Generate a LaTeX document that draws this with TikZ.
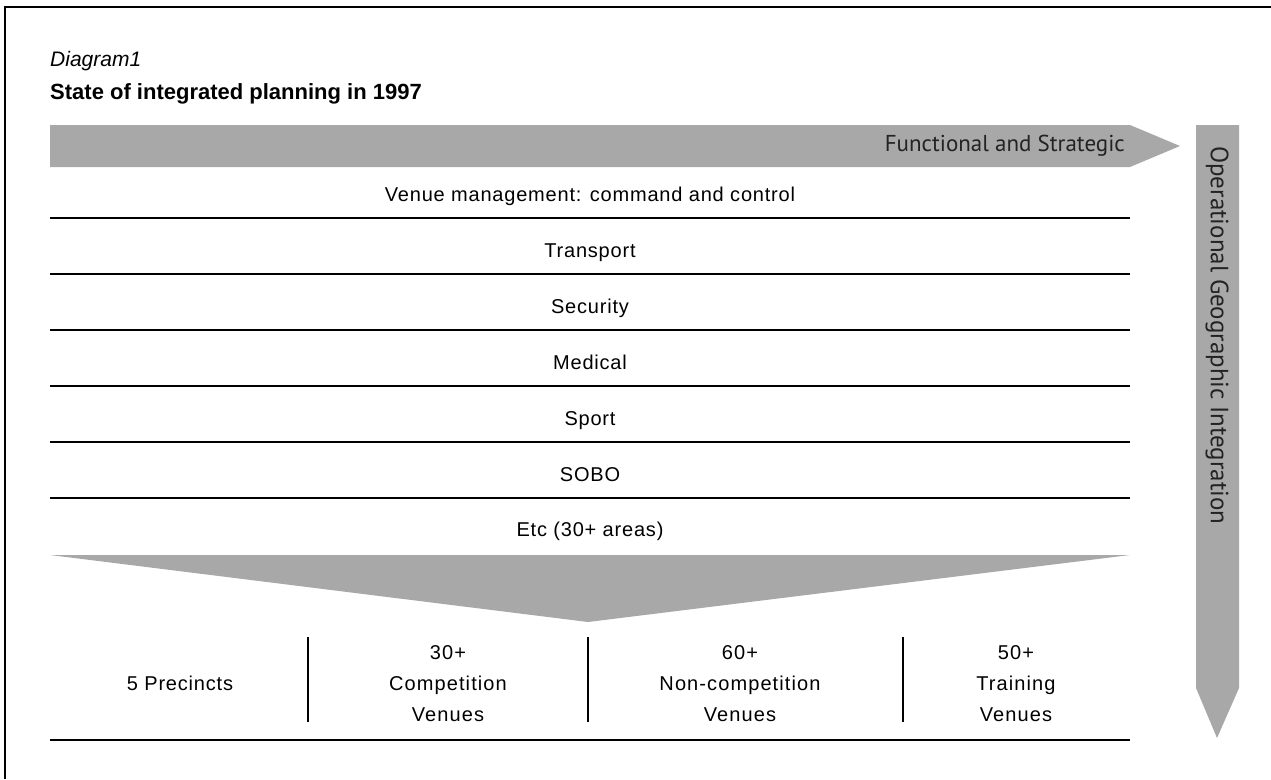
\documentclass[tikz,border=0pt]{standalone}
\usepackage{fontspec}
\setmainfont{Liberation Sans}
\newfontfamily\rowfont[LetterSpace=4]{Liberation Sans}
\newfontfamily\venuefont[LetterSpace=5.5]{Liberation Sans}
\newfontfamily\bandfont{PT Sans}
\usetikzlibrary{positioning}
\definecolor{bandgray}{RGB}{168,168,168}
\definecolor{bandink}{RGB}{35,35,35}
\tikzstyle{rowlabel} = [inner sep=0pt, anchor=base, font=\rowfont\fontsize{20}{24}\selectfont]
\tikzstyle{venuelabel} = [inner sep=0pt, align=center, font=\venuefont\fontsize{20}{31}\selectfont]
\tikzstyle{bandlabel} = [inner sep=0pt, text=bandink, font=\bandfont\fontsize{23}{26}\selectfont]
\tikzstyle{rule} = [line width=2.6pt]
\tikzstyle{divider} = [line width=2.2pt]
\tikzstyle{band} = [fill=bandgray]

\begin{document}
\begin{tikzpicture}[x=1pt, y=-1pt]
  \useasboundingbox (0,0) rectangle (1271,779);
  % frame
  \coordinate (fbot) at (5,779);
  \coordinate (ftop) at (5,7);
  \coordinate (fright) at (1271,7);
  \draw[line width=2.6pt] (fbot) -- (ftop) -- (fright);
  % heading
  \node[anchor=base west, inner sep=0pt, font=\itshape\fontsize{21}{24}\selectfont] (diag) at (50,66) {Diagram1};
  \node[anchor=base west, inner sep=0pt, font=\bfseries\fontsize{22}{26}\selectfont] (head) at (50,99) {State of integrated planning in 1997};
  % functional arrow
  \fill[band] (50,125) -- (1130,125) -- (1180,146) -- (1130,167) -- (50,167) -- cycle;
  \node[bandlabel, anchor=east] (func) at (1125,146) {Functional and Strategic};
  % geographic arrow
  \fill[band] (1196,125) -- (1239,125) -- (1239,688) -- (1217,738) -- (1196,688) -- cycle;
  \node[bandlabel, font=\bandfont\fontsize{25}{28}\selectfont, rotate=-90, anchor=west] (geo) at (1217,146) {Operational Geographic Integration};
  % functional areas
  \foreach \y/\name/\txt in {218/vm/{Venue management: command and control},
      274/tr/Transport, 330/se/Security, 386/me/Medical, 442/sp/Sport, 498/so/SOBO} {
    \coordinate (\name-l) at (50,\y);
    \coordinate (\name-r) at (1130,\y);
    \draw[rule] (\name-l) -- (\name-r);
    \node[rowlabel] (\name) at (590,\y-17) {\txt};
  }
  \node[rowlabel] (etc) at (590,536) {Etc (30+ areas)};
  % funnel
  \coordinate (fun-l) at (50,555);
  \coordinate (fun-r) at (1130,555);
  \coordinate (fun-t) at (588,622);
  \fill[band] (fun-l) -- (fun-r) -- (fun-t) -- cycle;
  % venues
  \node[rowlabel] (prec) at (180,690) {5 Precincts};
  \node[venuelabel] (comp) at (448,684) {30+\\Competition\\Venues};
  \node[venuelabel] (ncomp) at (740,684) {60+\\Non-competition\\Venues};
  \node[venuelabel] (train) at (1016,684) {50+\\Training\\Venues};
  \foreach \x [count=\i] in {308,588,903} {
    \coordinate (d\i-t) at (\x,637);
    \coordinate (d\i-b) at (\x,722);
    \draw[divider] (d\i-t) -- (d\i-b);
  }
  \coordinate (base-l) at (50,740);
  \coordinate (base-r) at (1130,740);
  \draw[rule] (base-l) -- (base-r);
\end{tikzpicture}
\end{document}
